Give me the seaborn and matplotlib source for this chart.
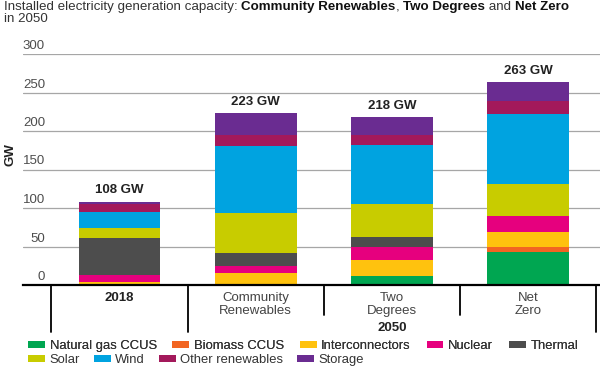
import matplotlib
matplotlib.use("Agg")
import matplotlib.pyplot as plt
import seaborn as sns
import pandas as pd
import numpy as np
from matplotlib.patches import Patch
from matplotlib.transforms import blended_transform_factory, offset_copy

# ---------------- data ----------------
categories = ["2018", "Community\nRenewables", "Two\nDegrees", "Net\nZero"]
series_names = ["Natural gas CCUS", "Biomass CCUS", "Interconnectors", "Nuclear",
                "Thermal", "Solar", "Wind", "Other renewables", "Storage"]
natural_gas_ccus = [0, 0, 12, 43]
biomass_ccus = [0, 0, 0, 7]
interconnectors = [4, 16, 20, 19]
nuclear = [9, 9, 17, 20]
thermal = [48, 16, 13, 0]
solar = [13, 52, 43, 42]
wind = [21, 88, 77, 91]
other_renewables = [10, 14, 13, 17]
storage = [3, 28, 23, 24]
total_labels = ["108 GW", "223 GW", "218 GW", "263 GW"]
y_ticks = [0, 50, 100, 150, 200, 250, 300]
group_label = "2050"

series_values = [natural_gas_ccus, biomass_ccus, interconnectors, nuclear, thermal,
                 solar, wind, other_renewables, storage]
colors = ["#00a651", "#f26522", "#ffc20e", "#e6007e", "#4d4d4d",
          "#c8cc00", "#00a3e0", "#a3195b", "#6a2c91"]

# ---------------- figure ----------------
sns.set_style("white")
plt.rcParams["font.family"] = ["Liberation Sans", "DejaVu Sans"]

W, H = 600, 378
fig = plt.figure(figsize=(W / 100, H / 100), dpi=100)
ax_left, ax_right, ax_bottom_px, ax_top_px = 23, 600, 285, 54
ax = fig.add_axes([ax_left / W, (H - ax_bottom_px) / H,
                   (ax_right - ax_left) / W, (ax_bottom_px - ax_top_px) / H])

df = pd.DataFrame({name: vals for name, vals in zip(series_names, series_values)})
df["category"] = categories
cum = df[series_names].cumsum(axis=1)

# draw cumulative bars from top layer down so lower layers overlay
for i in range(len(series_names) - 1, -1, -1):
    d = pd.DataFrame({"category": categories, "value": cum[series_names[i]].values})
    sns.barplot(data=d, x="category", y="value", order=categories, color=colors[i],
                saturation=1, width=0.6, errorbar=None, linewidth=0, ax=ax, zorder=2)

ax.set_xlim(-0.7085, 3.528)
ax.set_ylim(0, 300)
ax.set_yticks(y_ticks)
ax.set_yticklabels([])
ax.tick_params(axis="y", length=0)
ax.yaxis.grid(True, color="#a6a6a6", lw=0.9)
ax.set_axisbelow(True)
for s in ["top", "right", "left"]:
    ax.spines[s].set_visible(False)
ax.spines["bottom"].set_color("black")
ax.spines["bottom"].set_linewidth(1.6)
ax.spines["bottom"].set_zorder(5)
ax.set_xlabel("")
ax.set_ylabel("")

# y tick labels above gridlines, right aligned
ytrans = blended_transform_factory(ax.transAxes, ax.transData)
ytrans = offset_copy(ytrans, fig=fig, x=0, y=2, units="dots")
for t in y_ticks:
    ax.text((45 - ax_left) / (ax_right - ax_left), t, str(t), transform=ytrans,
            ha="right", va="bottom", fontsize=9.5, color="#4d4d4d")

fig.text(11 / W, 1 - 155 / H, "GW", rotation=90, ha="center", va="center",
         fontsize=9.5, fontweight="bold", color="#222222")

# x tick labels
ax.set_xticks(range(len(categories)))
ax.set_xticklabels(categories, fontsize=9.5, color="#444444", linespacing=1.15)
ax.tick_params(axis="x", length=0, pad=5)
lbls = ax.get_xticklabels()
lbls[0].set_fontweight("bold")
lbls[0].set_color("#222222")

# total labels
for i, lab in enumerate(total_labels):
    total = cum.iloc[i, -1]
    ax.annotate(lab, (i, total), xytext=(0, 4), textcoords="offset points",
                ha="center", va="bottom", fontsize=9.5, fontweight="bold", color="#222222")

# divider lines
xt = blended_transform_factory(ax.transData, ax.transAxes)
ax_h = ax_bottom_px - ax_top_px
for xv, length in [(-0.5, 47), (0.5, 47), (1.5, 30), (2.5, 30), (3.5, 47)]:
    ax.plot([xv, xv], [0, -length / ax_h], transform=xt, color="black", lw=1.3,
            clip_on=False, zorder=5)
ax.text(2, -43 / ax_h, group_label, transform=xt, ha="center", va="center",
        fontsize=9.5, fontweight="bold", color="#222222")

# legend rows
def make_legend(idx, ypx, colsp):
    handles = [Patch(facecolor=colors[i], edgecolor="none", label=series_names[i]) for i in idx]
    leg = fig.legend(handles=handles, loc="center left", bbox_to_anchor=(28 / W, 1 - ypx / H),
                     ncol=len(idx), frameon=False, fontsize=9.4, handlelength=1.3,
                     handleheight=0.45, handletextpad=0.35, columnspacing=colsp,
                     borderpad=0, borderaxespad=0, labelcolor="#333333")
    return leg

leg1 = make_legend([0, 1, 2, 3, 4], 346, 1.2)
fig.add_artist(leg1)
make_legend([5, 6, 7, 8], 360, 1.05)

# title with mixed weights
fig.canvas.draw()
r = fig.canvas.get_renderer()
x = 4 / W
y = 1 - 1 / H
parts = [("Installed electricity generation capacity: ", "normal"),
         ("Community Renewables", "bold"), (", ", "normal"),
         ("Two Degrees", "bold"), (" and ", "normal"), ("Net Zero", "bold")]
for txt, wgt in parts:
    t = fig.text(x, y, txt, fontsize=9.6, fontweight=wgt, va="top", ha="left",
                 color="#333333" if wgt == "normal" else "#111111")
    bb = t.get_window_extent(renderer=r)
    x += bb.width / fig.bbox.width
fig.text(4 / W, 1 - 13.5 / H, "in 2050", fontsize=9.6, va="top", ha="left", color="#333333")

fig.savefig("out.png", dpi=100)
